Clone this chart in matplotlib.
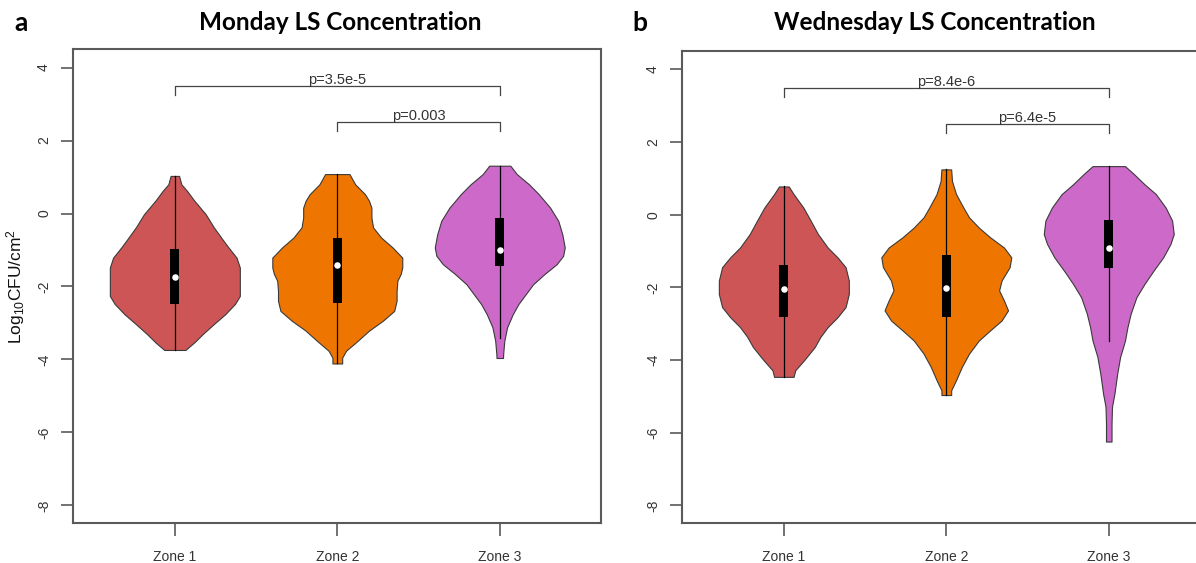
import matplotlib
matplotlib.use("Agg")
import matplotlib.pyplot as plt
import numpy as np

plt.rcParams['font.family'] = ['Liberation Sans', 'DejaVu Sans']
plt.rcParams['mathtext.fontset'] = 'custom'
plt.rcParams['mathtext.rm'] = 'Liberation Sans'
plt.rcParams['mathtext.it'] = 'Liberation Sans:italic'

zones = ["Zone 1", "Zone 2", "Zone 3"]
colors = ["#CD5555", "#EE7600", "#CD69C9"]
panel_titles = ["Monday LS Concentration", "Wednesday LS Concentration"]
panel_letters = ["a", "b"]
yticks = [4, 2, 0, -2, -4, -6, -8]

# ---- Monday violin profiles (y level, half-width) ----
mon_z1_y = [1.03, 0.80, 0.62, 0.35, -0.02, -0.38, -0.75, -0.93, -1.21, -1.48, -1.84, -2.26, -2.48, -2.76, -3.03, -3.31, -3.53, -3.74]
mon_z1_w = [0.026, 0.04, 0.075, 0.12, 0.19, 0.24, 0.30, 0.33, 0.38, 0.40, 0.40, 0.40, 0.37, 0.31, 0.24, 0.17, 0.12, 0.065]
mon_z2_y = [1.08, 0.80, 0.53, 0.35, 0.16, -0.11, -0.38, -0.66, -0.93, -1.21, -1.48, -1.66, -1.84, -2.12, -2.39, -2.67, -2.94, -3.21, -3.49, -3.76, -3.95, -4.11]
mon_z2_w = [0.075, 0.11, 0.17, 0.195, 0.21, 0.21, 0.22, 0.27, 0.34, 0.40, 0.40, 0.39, 0.37, 0.365, 0.365, 0.35, 0.28, 0.195, 0.125, 0.054, 0.03, 0.03]
mon_z3_y = [1.31, 1.08, 0.80, 0.53, 0.16, -0.20, -0.57, -0.93, -1.16, -1.39, -1.66, -1.94, -2.21, -2.48, -2.76, -3.12, -3.49, -3.85, -3.96]
mon_z3_w = [0.065, 0.105, 0.18, 0.24, 0.31, 0.36, 0.385, 0.40, 0.39, 0.35, 0.275, 0.205, 0.16, 0.115, 0.08, 0.045, 0.028, 0.021, 0.02]
mon_q1 = [-2.48, -2.46, -1.43]
mon_q3 = [-0.98, -0.66, -0.11]
mon_med = [-1.74, -1.42, -1.00]
mon_wlo = [-3.74, -4.11, -3.40]
mon_whi = [1.03, 1.08, 1.31]
mon_pvals = ["p=3.5e-5", "p=0.003"]

# ---- Wednesday violin profiles ----
wed_z1_y = [0.78, 0.57, 0.20, -0.16, -0.53, -0.90, -1.17, -1.44, -1.81, -2.18, -2.54, -2.82, -3.09, -3.36, -3.64, -4.00, -4.28, -4.46]
wed_z1_w = [0.03, 0.06, 0.12, 0.165, 0.21, 0.27, 0.33, 0.38, 0.40, 0.40, 0.38, 0.33, 0.27, 0.225, 0.19, 0.125, 0.07, 0.06]
wed_z2_y = [1.25, 0.93, 0.57, 0.20, -0.07, -0.35, -0.62, -0.90, -1.17, -1.44, -1.81, -2.08, -2.36, -2.63, -2.91, -3.18, -3.46, -3.82, -4.19, -4.55, -4.83, -4.96]
wed_z2_w = [0.03, 0.035, 0.06, 0.105, 0.14, 0.20, 0.27, 0.355, 0.40, 0.39, 0.34, 0.325, 0.355, 0.38, 0.34, 0.27, 0.20, 0.14, 0.095, 0.06, 0.03, 0.03]
wed_z3_y = [1.34, 1.12, 0.84, 0.57, 0.20, -0.16, -0.53, -0.80, -1.17, -1.54, -1.90, -2.27, -2.72, -3.09, -3.46, -3.91, -4.37, -4.92, -5.28, -5.74, -6.24]
wed_z3_w = [0.10, 0.155, 0.22, 0.29, 0.35, 0.39, 0.40, 0.38, 0.335, 0.275, 0.22, 0.17, 0.135, 0.115, 0.10, 0.07, 0.052, 0.035, 0.02, 0.017, 0.017]
wed_q1 = [-2.80, -2.80, -1.47]
wed_q3 = [-1.38, -1.10, -0.15]
wed_med = [-2.03, -2.01, -0.90]
wed_wlo = [-4.46, -4.96, -3.46]
wed_whi = [0.78, 1.25, 1.34]
wed_pvals = ["p=8.4e-6", "p=6.4e-5"]

# bracket heights (data units)
bracket_levels = [3.5, 2.5]
bracket_pairs = [(1, 3), (2, 3)]

panels = [
    dict(ys=[mon_z1_y, mon_z2_y, mon_z3_y], ws=[mon_z1_w, mon_z2_w, mon_z3_w],
         q1=mon_q1, q3=mon_q3, med=mon_med, wlo=mon_wlo, whi=mon_whi, p=mon_pvals),
    dict(ys=[wed_z1_y, wed_z2_y, wed_z3_y], ws=[wed_z1_w, wed_z2_w, wed_z3_w],
         q1=wed_q1, q3=wed_q3, med=wed_med, wlo=wed_wlo, whi=wed_whi, p=wed_pvals),
]

W, H = 1196, 563
fig = plt.figure(figsize=(W / 100, H / 100), dpi=100)
axes_px = [(73.3, 49.3, 528, 474), (682.3, 51.3, 528, 472)]
title_x = [340, 935]
letter_x = [21, 640]
frame_col = "#5a5a5a"
text_col = "#333333"

for k, pnl in enumerate(panels):
    lx, ty, wpx, hpx = axes_px[k]
    ax = fig.add_axes([lx / W, 1 - (ty + hpx) / H, wpx / W, hpx / H])
    ax.set_xlim(0.375, 3.625)
    ax.set_ylim(-8.49, 4.5)
    for i in range(3):
        x = i + 1
        y = np.array(pnl['ys'][i])
        w = np.array(pnl['ws'][i])
        ax.fill_betweenx(y, x - w, x + w, facecolor=colors[i], edgecolor="#3a3a3a", linewidth=0.8, zorder=2)
        ax.plot([x, x], [pnl['wlo'][i], pnl['whi'][i]], color="black", linewidth=0.9, zorder=3)
        ax.bar(x, pnl['q3'][i] - pnl['q1'][i], bottom=pnl['q1'][i], width=0.055, color="black", zorder=4)
        ax.scatter([x], [pnl['med'][i]], s=22, color="white", zorder=5, linewidths=0)
    # significance brackets
    for (a, b), lev, ptxt in zip(bracket_pairs, bracket_levels, pnl['p']):
        ax.plot([a, a, b, b], [lev - 0.25, lev, lev, lev - 0.25], color="#444444", linewidth=0.9, zorder=3)
        ax.text((a + b) / 2, lev - 0.03, ptxt, ha="center", va="bottom", fontsize=10.5, color=text_col)
    ax.set_xticks([1, 2, 3])
    ax.set_xticklabels(zones, fontsize=10, color=text_col)
    ax.set_yticks(yticks)
    ax.set_yticklabels([str(t) for t in yticks], rotation=90, va="center", fontsize=10, color=text_col)
    ax.tick_params(axis="both", direction="out", length=9, width=1.2, color=frame_col)
    ax.tick_params(axis="x", pad=10)
    ax.tick_params(axis="y", pad=7)
    for s in ax.spines.values():
        s.set_color(frame_col)
        s.set_linewidth(1.5)
    if k == 0:
        ax.set_ylabel("Log$_{10}$CFU/cm$^2$", fontsize=12.5, color="#111111")
        ax.yaxis.set_label_coords(-0.088, 0.5)
    fig.text(title_x[k] / W, 1 - 23 / H, panel_titles[k], ha="center", va="center",
             fontsize=17.5, fontweight="bold", family=["Lato", "DejaVu Sans"])
    fig.text(letter_x[k] / W, 1 - 23 / H, panel_letters[k], ha="center", va="center",
             fontsize=19, fontweight="bold", family=["Lato", "DejaVu Sans"])

fig.savefig("out.png", dpi=100)
